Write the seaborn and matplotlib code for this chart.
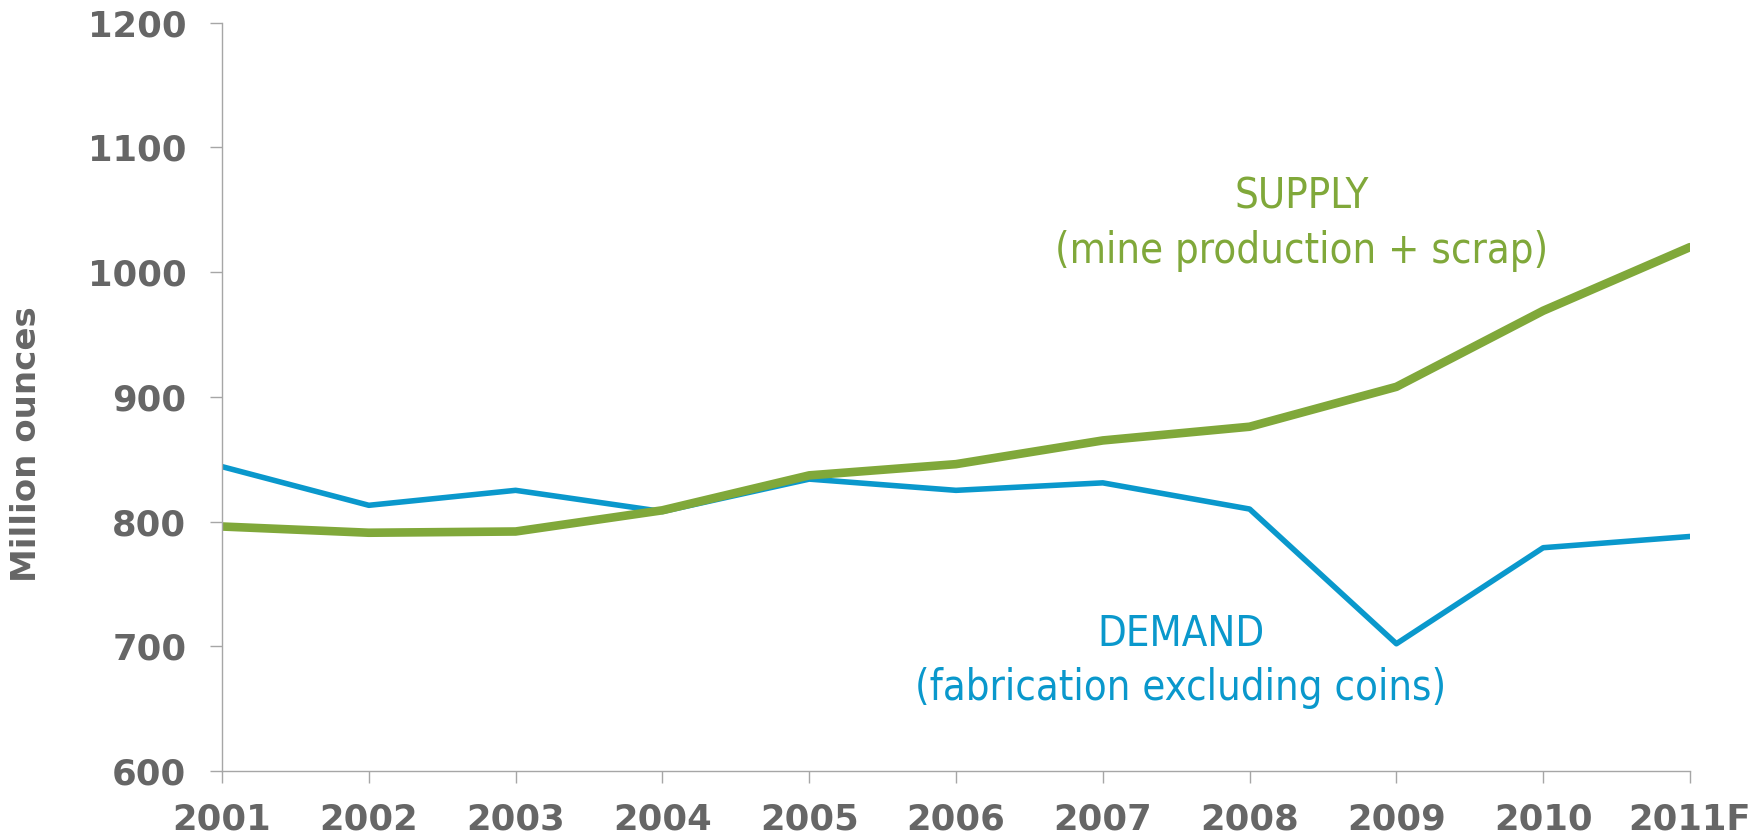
import numpy as np
import pandas as pd
import matplotlib
matplotlib.use("Agg")
import matplotlib.pyplot as plt
import seaborn as sns

years = ["2001", "2002", "2003", "2004", "2005", "2006", "2007", "2008", "2009", "2010", "2011F"]
supply = [796, 791, 792, 809, 837, 846, 865, 876, 908, 969, 1020]
demand = [844, 813, 825, 808, 834, 825, 831, 810, 702, 779, 788]

green = "#80A83A"
blue = "#0A98CC"
grey = "#666666"

df = pd.DataFrame({
    "idx": list(range(len(years))) * 2,
    "value": supply + demand,
    "series": ["Supply"] * len(years) + ["Demand"] * len(years),
})

sns.set_style("white")
plt.rcParams["font.family"] = ["DejaVu Sans"]

fig = plt.figure(figsize=(17.65, 8.38), dpi=100)
ax = fig.add_axes([0.1258, 0.0800, 0.9575 - 0.1258, 0.9730 - 0.0800])

sns.lineplot(data=df[df.series == "Demand"], x="idx", y="value", color=blue,
             linewidth=4.0, ax=ax, legend=False)
sns.lineplot(data=df[df.series == "Supply"], x="idx", y="value", color=green,
             linewidth=6.2, ax=ax, legend=False)

ax.set_xlim(0, len(years) - 1)
ax.set_ylim(600, 1200)
ax.set_yticks(range(600, 1201, 100))
ax.set_xticks(range(len(years)))
ax.set_xticklabels(years)
ax.set_xlabel("")
ax.set_ylabel("")

for s in ["top", "right"]:
    ax.spines[s].set_visible(False)
for s in ["left", "bottom"]:
    ax.spines[s].set_color("#A6A6A6")
    ax.spines[s].set_linewidth(1.0)

ax.tick_params(axis="both", direction="out", length=8.6, width=1.0, color="#A6A6A6",
               labelcolor=grey, labelsize=25.5, bottom=True, left=True)
ax.tick_params(axis="y", pad=17)
ax.tick_params(axis="x", pad=14)
for lbl in ax.get_xticklabels() + ax.get_yticklabels():
    lbl.set_fontweight("bold")

fig.text(27 / 1765, 1 - 444 / 838, "Million ounces", rotation=90, ha="center", va="center",
         fontsize=24.5, fontweight="bold", color=grey)

ax.text(7.357, 1039, "SUPPLY\n(mine production + scrap)", ha="center", va="center",
        fontsize=30, color=green, linespacing=1.38, fontstretch="condensed")
ax.text(6.533, 688, "DEMAND\n(fabrication excluding coins)", ha="center", va="center",
        fontsize=30, color=blue, linespacing=1.38, fontstretch="condensed")

fig.savefig("out.png", dpi=100)
